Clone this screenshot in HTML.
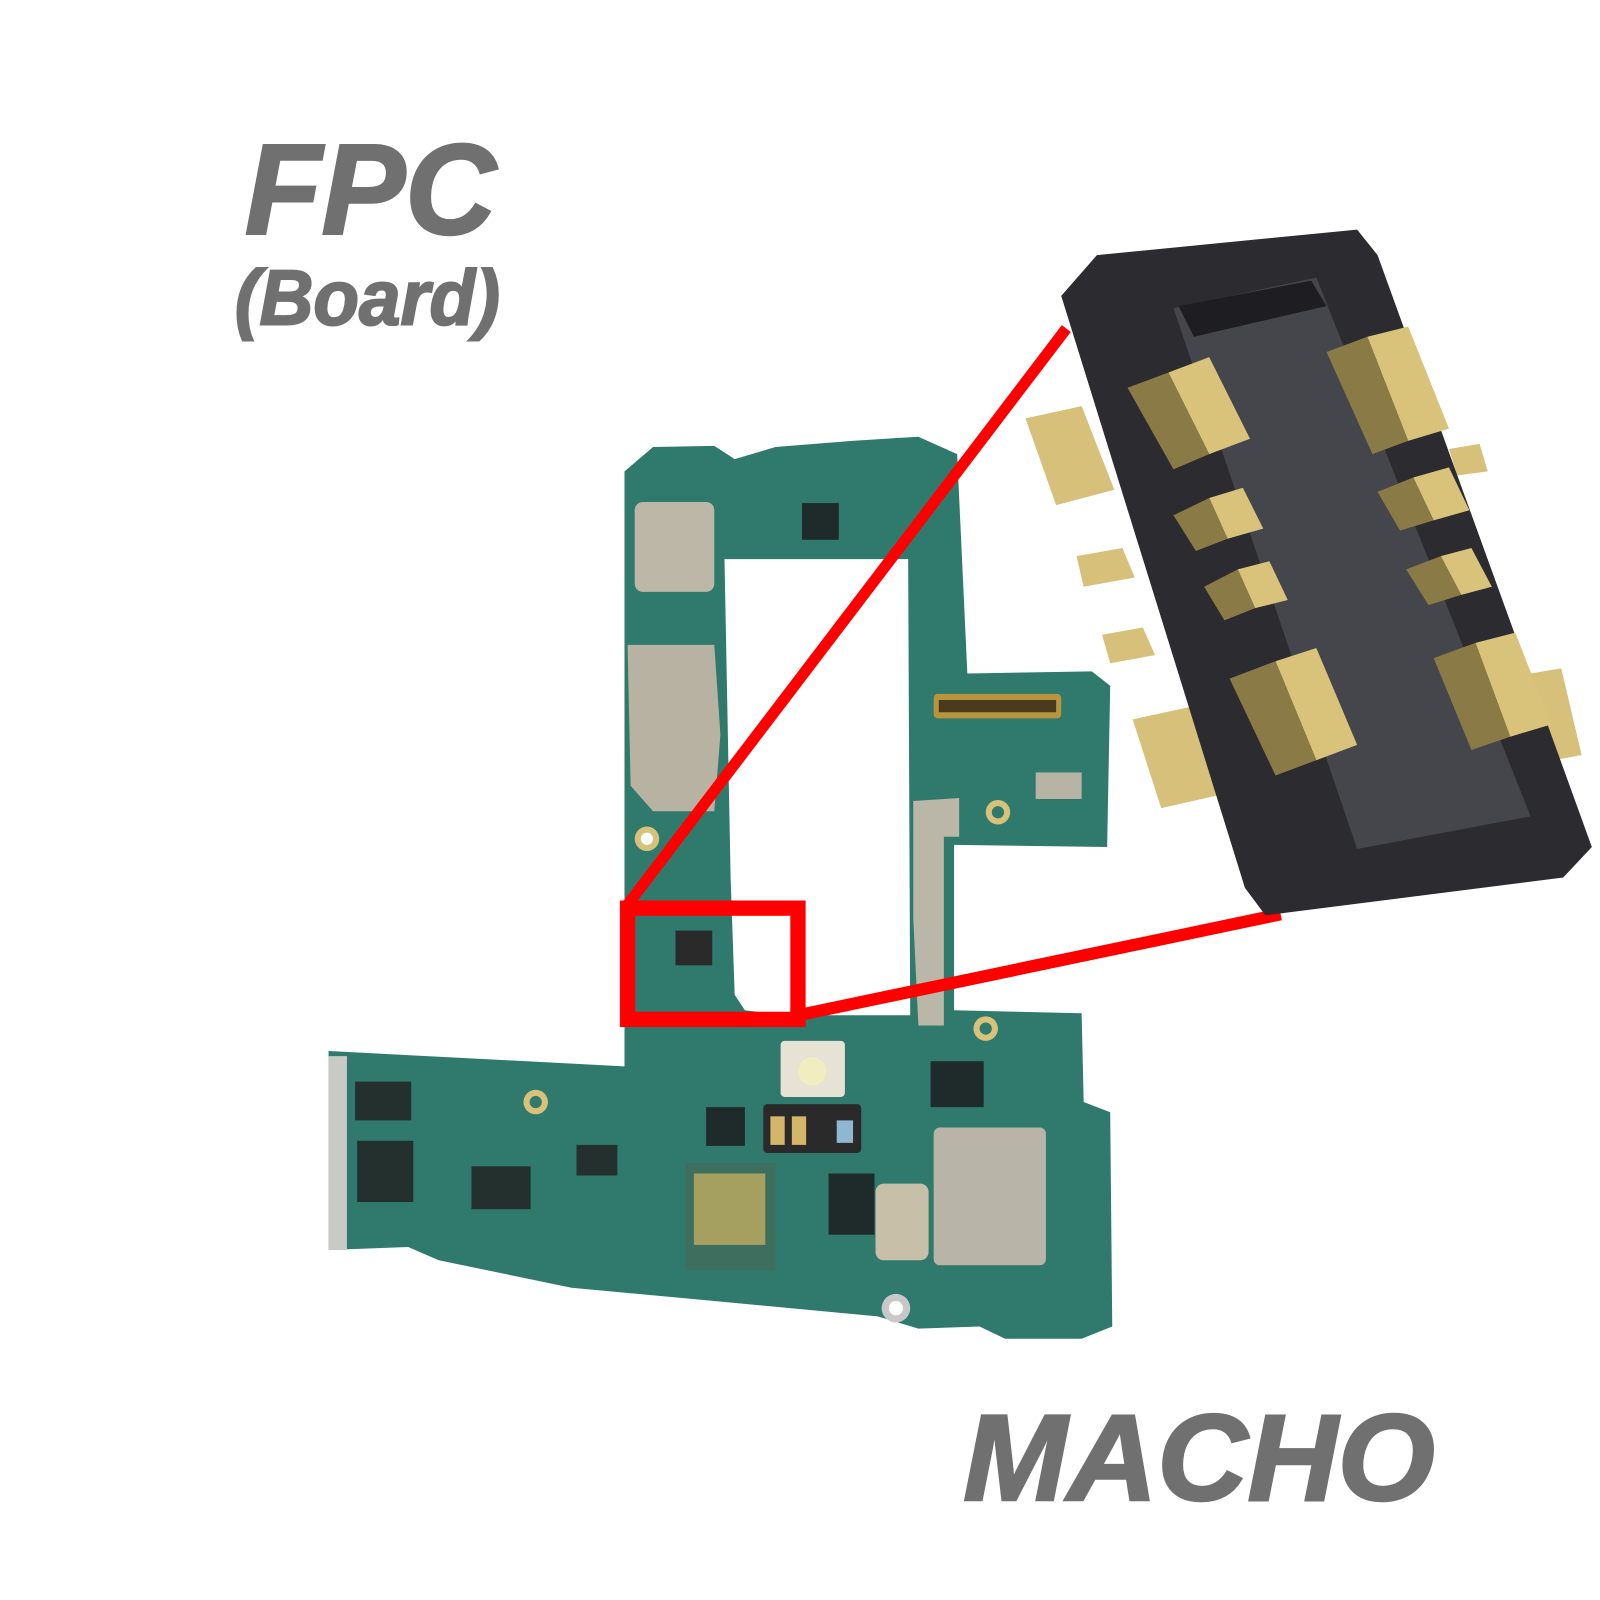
<!DOCTYPE html>
<html><head><meta charset="utf-8"><style>
html,body{margin:0;padding:0;background:#fff;}
svg{display:block;}
text{font-family:"Liberation Sans",Arial,sans-serif;font-weight:bold;font-style:italic;fill:#707070;stroke:#707070;}
</style></head><body>
<svg width="1600" height="1600" viewBox="0 0 1568 1568" xmlns="http://www.w3.org/2000/svg">
<rect width="1568" height="1568" fill="#fff"/>
<text x="240" y="229" font-size="126" stroke-width="2.5" textLength="246" lengthAdjust="spacingAndGlyphs">FPC</text>
<text x="230" y="318" font-size="76" stroke-width="2" textLength="260" lengthAdjust="spacingAndGlyphs">(Board)</text>
<text x="944" y="1470" font-size="120" stroke-width="2.5" textLength="462" lengthAdjust="spacingAndGlyphs">MACHO</text>

<!-- PCB -->
<path fill-rule="evenodd" fill="#2f7a6c" d="M612,462 L640,438 L700,437 L720,450 L760,438 L835,432 L900,428 L938,445 L948,660 L1070,658 L1088,672 L1085,830 L935,828 L935,990 L1060,993 L1062,1080 L1088,1090 L1090,1300 L1060,1312 L985,1312 L960,1300 L900,1302 L860,1290 L700,1275 L560,1262 L430,1235 L400,1222 L322,1225 L322,1030 L612,1045 Z
M710,548 L890,548 L892,995 L770,995 L730,990 L720,975 L716,860 Z"/>
<rect x="622" y="492" width="78" height="88" rx="8" fill="#bdb7a8"/>
<path d="M615,632 L700,632 L706,720 L700,795 L640,795 L618,770 Z" fill="#b8b2a2"/>
<rect x="915" y="1105" width="110" height="135" rx="6" fill="#b9b4a8"/>
<rect x="858" y="1160" width="52" height="75" rx="8" fill="#c7bfa8"/>
<rect x="765" y="1020" width="63" height="55" rx="4" fill="#e6e2d4"/>
<circle cx="796" cy="1050" r="14" fill="#f1edc0"/>
<rect x="322" y="1035" width="18" height="190" fill="#c9c9c5"/>
<path d="M895,785 L940,782 L940,820 L925,820 L925,1005 L900,1005 L895,900 Z" fill="#bab6a8"/>
<rect x="915" y="680" width="125" height="24" rx="4" fill="#b8943c"/>
<rect x="920" y="686" width="115" height="12" fill="#4a3b20"/>
<rect x="748" y="1082" width="96" height="48" rx="4" fill="#2a2a2a"/>
<rect x="755" y="1094" width="14" height="28" fill="#d3b66a"/>
<rect x="776" y="1094" width="14" height="28" fill="#d3b66a"/>
<rect x="820" y="1098" width="16" height="22" fill="#8fb7d4"/>
<rect x="672" y="1140" width="88" height="105" fill="#3d6e5e"/>
<rect x="680" y="1150" width="70" height="70" fill="#d2b560" opacity=".7"/>
<rect x="912" y="1040" width="52" height="45" fill="#1f2a2a"/>
<rect x="812" y="1150" width="45" height="60" fill="#1f2a2a"/>
<rect x="692" y="1085" width="38" height="38" fill="#1f2a2a"/>
<rect x="348" y="1060" width="55" height="38" fill="#24302e"/>
<rect x="350" y="1118" width="55" height="60" fill="#24302e"/>
<rect x="462" y="1143" width="58" height="42" fill="#24302e"/>
<rect x="565" y="1122" width="40" height="30" fill="#24302e"/>
<rect x="786" y="493" width="36" height="36" fill="#1f2a2a"/>
<rect x="1015" y="757" width="45" height="26" fill="#b8b4a5"/>
<rect x="662" y="912" width="36" height="34" fill="#2a2a2a"/>
<circle cx="634" cy="822" r="12" fill="#d8c27a"/><circle cx="634" cy="822" r="6" fill="#fff"/>
<circle cx="978" cy="796" r="12" fill="#d8c27a"/><circle cx="978" cy="796" r="6" fill="#2f7a6c"/>
<circle cx="966" cy="1008" r="12" fill="#d8c27a"/><circle cx="966" cy="1008" r="6" fill="#2f7a6c"/>
<circle cx="525" cy="1080" r="12" fill="#d8c27a"/><circle cx="525" cy="1080" r="6" fill="#2f7a6c"/>
<circle cx="878" cy="1282" r="14" fill="#c8c8c8"/><circle cx="878" cy="1282" r="7" fill="#fff"/>

<line x1="614" y1="888" x2="1045" y2="322" stroke="#f00" stroke-width="11"/>
<line x1="782" y1="995" x2="1255" y2="896" stroke="#f00" stroke-width="12"/>
<rect x="615" y="890" width="167" height="109" fill="none" stroke="#f00" stroke-width="15"/>

<g fill="#d7c07a">
<polygon points="1005,410 1060,398 1092,480 1035,495"/>
<polygon points="1055,545 1100,537 1112,566 1062,575"/>
<polygon points="1080,622 1120,615 1132,642 1088,650"/>
<polygon points="1110,705 1170,692 1200,778 1138,792"/>
<polygon points="1420,440 1450,435 1458,462 1428,466"/>
<polygon points="1500,660 1530,655 1550,740 1522,745"/>
</g>
<polygon points="1040,290 1075,250 1330,225 1350,250 1560,830 1532,860 1240,897 1220,870" fill="#2b2b30"/>
<polygon points="1150,302 1290,272 1500,800 1330,832" fill="#45454c"/>
<polygon points="1155,300 1285,275 1300,300 1170,330" fill="#1e1e22"/>
<g fill="#d9c27a">
<polygon points="1145,365 1185,350 1225,430 1185,445"/>
<polygon points="1185,488 1218,478 1238,518 1203,528"/>
<polygon points="1213,558 1244,550 1262,588 1230,596"/>
<polygon points="1250,648 1290,635 1330,730 1290,745"/>
<polygon points="1340,330 1380,320 1420,420 1380,432"/>
<polygon points="1385,468 1420,458 1440,500 1405,510"/>
<polygon points="1412,545 1442,537 1462,575 1432,583"/>
<polygon points="1446,630 1485,620 1520,710 1480,722"/>
</g>
<g fill="#8a7a45">
<polygon points="1105,380 1145,365 1185,445 1150,460"/>
<polygon points="1150,505 1185,488 1203,528 1172,540"/>
<polygon points="1180,575 1213,558 1230,596 1200,608"/>
<polygon points="1205,665 1250,648 1290,745 1250,760"/>
<polygon points="1300,345 1340,330 1380,432 1345,445"/>
<polygon points="1350,482 1385,468 1405,510 1372,520"/>
<polygon points="1378,558 1412,545 1432,583 1400,593"/>
<polygon points="1405,645 1446,630 1480,722 1442,735"/>
</g>
</svg>
</body></html>
